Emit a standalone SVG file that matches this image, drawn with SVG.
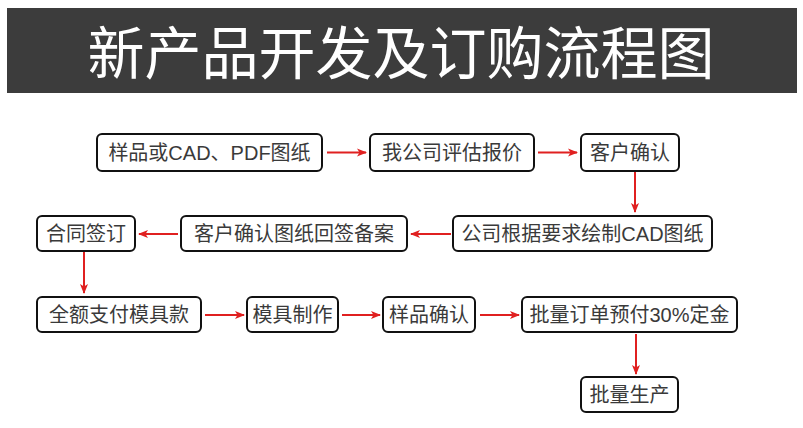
<svg xmlns="http://www.w3.org/2000/svg" width="803" height="428" viewBox="0 0 803 428">
<defs>
<style>
.box{fill:#fff;stroke:#111;stroke-width:2}
.t{font-family:"Liberation Sans","Noto Sans CJK SC",sans-serif;font-size:20px;fill:#3a3a3a;text-anchor:middle}
.c{stroke:#e02020;stroke-width:2;fill:none;marker-end:url(#ah)}
</style>
<marker id="ah" viewBox="0 0 10 10" refX="9" refY="5" markerWidth="10" markerHeight="10" markerUnits="userSpaceOnUse" orient="auto">
<path d="M0,1 L10,5 L0,9 L2.5,5 Z" fill="#e02020"/>
</marker>
</defs>
<rect width="803" height="428" fill="#fff"/>
<g id="header">
<rect x="7" y="8" width="790" height="85" fill="#3c3c3c"/>
<text x="401" y="74" font-family="'Noto Sans CJK SC','Liberation Sans',sans-serif" font-size="57" fill="#fff" text-anchor="middle">新产品开发及订购流程图</text>
</g>
<g id="connectors">
<line class="c" x1="327" y1="152.5" x2="366" y2="152.5"/>
<line class="c" x1="538" y1="152.5" x2="577" y2="152.5"/>
<line class="c" x1="635" y1="171" x2="635" y2="212"/>
<line class="c" x1="451" y1="234" x2="411" y2="234"/>
<line class="c" x1="178" y1="234" x2="139" y2="234"/>
<line class="c" x1="84" y1="252" x2="84" y2="293"/>
<line class="c" x1="205" y1="315" x2="244" y2="315"/>
<line class="c" x1="342" y1="315" x2="380" y2="315"/>
<line class="c" x1="480" y1="315" x2="519" y2="315"/>
<line class="c" x1="636" y1="334" x2="636" y2="374"/>
</g>
<g id="n1"><rect class="box" x="97" y="134" width="225" height="37" rx="5"/><text class="t" x="209.5" y="159.5">样品或CAD、PDF图纸</text></g>
<g id="n2"><rect class="box" x="370" y="134" width="164" height="37" rx="5"/><text class="t" x="452" y="159.5">我公司评估报价</text></g>
<g id="n3"><rect class="box" x="581" y="134" width="98" height="37" rx="5"/><text class="t" x="630" y="159.5">客户确认</text></g>
<g id="n4"><rect class="box" x="453" y="216" width="259" height="35" rx="5"/><text class="t" x="582.5" y="240.5">公司根据要求绘制CAD图纸</text></g>
<g id="n5"><rect class="box" x="181" y="216" width="226" height="35" rx="5"/><text class="t" x="294" y="240.5">客户确认图纸回签备案</text></g>
<g id="n6"><rect class="box" x="37" y="216" width="98" height="35" rx="5"/><text class="t" x="86" y="240.5">合同签订</text></g>
<g id="n7"><rect class="box" x="37" y="297" width="164" height="35" rx="5"/><text class="t" x="119" y="321.5">全额支付模具款</text></g>
<g id="n8"><rect class="box" x="247" y="297" width="91" height="35" rx="5"/><text class="t" x="292.5" y="321.5">模具制作</text></g>
<g id="n9"><rect class="box" x="383" y="297" width="92" height="35" rx="5"/><text class="t" x="429" y="321.5">样品确认</text></g>
<g id="n10"><rect class="box" x="522" y="297" width="215" height="35" rx="5"/><text class="t" x="629.5" y="321.5">批量订单预付30%定金</text></g>
<g id="n11"><rect class="box" x="581" y="377" width="97" height="35" rx="5"/><text class="t" x="629.5" y="401.5">批量生产</text></g>
</svg>
